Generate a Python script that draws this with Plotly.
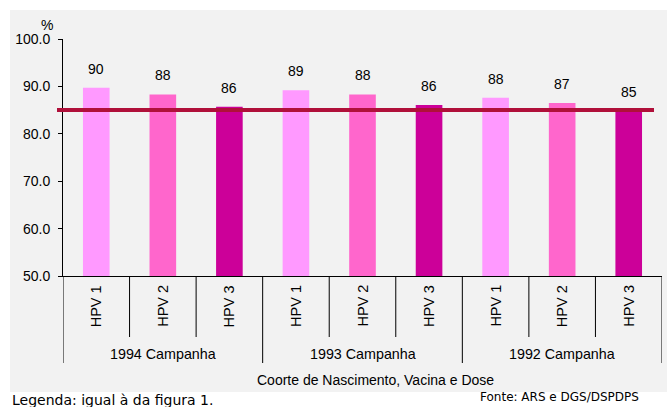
import plotly.graph_objects as go

groups = ["1994 Campanha", "1993 Campanha", "1992 Campanha"]
doses = ["HPV 1", "HPV 2", "HPV 3"]
values = [89.7, 88.3, 85.7, 89.2, 88.3, 86.1, 87.6, 86.5, 84.9]
value_labels = ["90", "88", "86", "89", "88", "86", "88", "87", "85"]
dose_colors = ["#FF99FF", "#FF66CC", "#CC0099"]
target = 85
y_ticks = [50, 60, 70, 80, 90, 100]

W, H = 667, 407
ML, MR, MT, MB = 63, 5, 39, 131
PW, PH = W - ML - MR, H - MT - MB

def px_x(X):
    return (X - ML) / PW

def px_y(Y):
    return (H - MB - Y) / PH

n = len(values)
xs = list(range(n))
colors = [dose_colors[i % 3] for i in range(n)]

fig = go.Figure()
fig.add_trace(go.Bar(x=xs, y=values, marker=dict(color=colors, line=dict(width=0)),
                     width=0.4, hoverinfo="skip"))

shapes = []
# gray background
shapes.append(dict(type="rect", xref="paper", yref="paper", x0=px_x(10), x1=px_x(667),
                   y0=px_y(392), y1=px_y(10), fillcolor="#F2F2F2", line=dict(width=0), layer="below"))
# inner tick dividers
for i in range(n + 1):
    is_group = (i % 3 == 0)
    shapes.append(dict(type="line", xref="x", yref="paper", x0=i - 0.5, x1=i - 0.5,
                       y0=0, y1=px_y(363 if is_group else 337),
                       line=dict(color="black", width=1)))
# target line
shapes.append(dict(type="line", xref="paper", yref="y", x0=px_x(57), x1=px_x(654),
                   y0=target, y1=target, line=dict(color="#B0103A", width=4)))

def ann(**kw):
    base = dict(showarrow=False, xanchor="center", yanchor="middle",
                font=dict(size=14, color="black"))
    base.update(kw)
    return base

annotations = []
for i in range(n):
    annotations.append(ann(x=xs[i], y=values[i], xref="x", yref="y", text=value_labels[i],
                           yshift=19))
    annotations.append(ann(x=xs[i], y=px_y(306), xref="x", yref="paper", text=doses[i % 3],
                           textangle=-90, font=dict(size=14.5, color="black")))
for g, name in enumerate(groups):
    annotations.append(ann(x=g * 3 + 1, y=px_y(354), xref="x", yref="paper", text=name,
                           font=dict(size=14.3, color="black")))
annotations.append(ann(x=px_x(375), y=px_y(380), xref="paper", yref="paper",
                       text="Coorte de Nascimento, Vacina e Dose",
                       font=dict(size=14, color="black")))
annotations.append(ann(x=px_x(47), y=px_y(25), xref="paper", yref="paper", text="%"))
annotations.append(ann(x=px_x(10), y=px_y(400), xref="paper", yref="paper",
                       text="Legenda: igual à da figura 1.", xanchor="left",
                       font=dict(family="DejaVu Sans", size=14, color="black")))
annotations.append(ann(x=px_x(478), y=px_y(397), xref="paper", yref="paper",
                       text="Fonte: ARS e DGS/DSPDPS", xanchor="left",
                       font=dict(family="DejaVu Sans", size=12, color="black")))

fig.update_layout(
    width=W, height=H,
    margin=dict(l=ML, r=MR, t=MT, b=MB, autoexpand=False),
    paper_bgcolor="white", plot_bgcolor="rgba(0,0,0,0)",
    font=dict(family="Liberation Sans, Arial", size=14, color="black"),
    showlegend=False,
    shapes=shapes, annotations=annotations,
    xaxis=dict(range=[-0.5, n - 0.5], showticklabels=False, ticks="", showgrid=False,
               zeroline=False, showline=True, linecolor="black", linewidth=1, fixedrange=True),
    yaxis=dict(range=[50, 100], tickvals=y_ticks, tickformat=".1f", ticks="outside",
               ticklen=4, tickcolor="black", showgrid=False, zeroline=False, showline=True,
               linecolor="black", linewidth=1, tickfont=dict(size=14), fixedrange=True,
               ticklabelstandoff=5),
)

fig.write_html("out.html")
